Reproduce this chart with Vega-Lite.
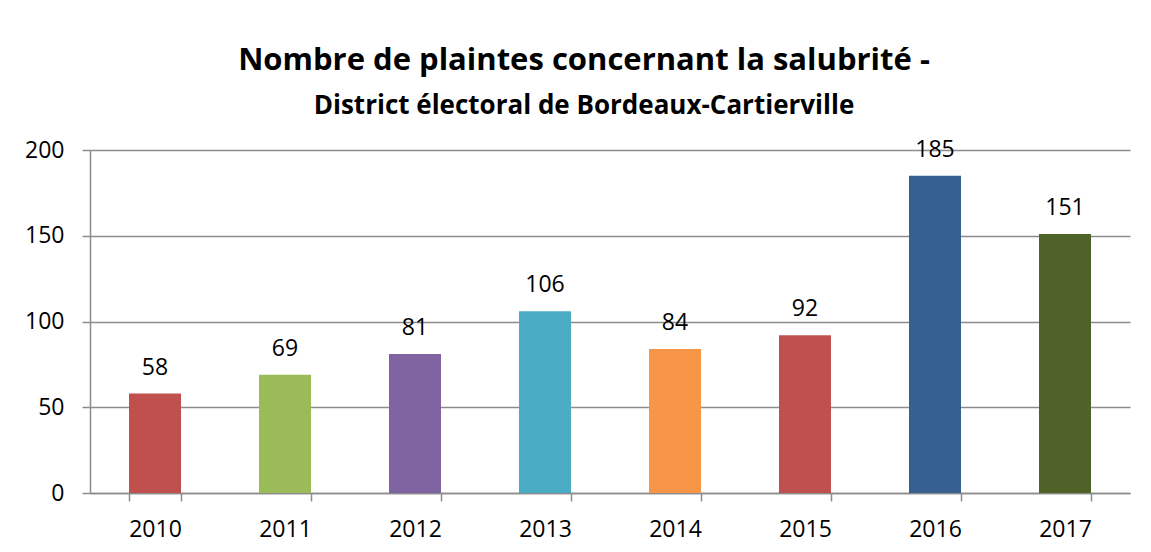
{
  "$schema": "https://vega.github.io/schema/vega-lite/v6.json",
  "width": 1040,
  "height": 343,
  "autosize": {"type": "none"},
  "padding": {"left": 90, "top": 150, "right": 21, "bottom": 59},
  "background": "white",
  "title": {
    "text": "Nombre de plaintes concernant la salubrité -",
    "subtitle": "District électoral de Bordeaux-Cartierville",
    "font": "Open Sans",
    "fontSize": 31,
    "fontWeight": "bold",
    "color": "#000000",
    "subtitleFont": "Open Sans",
    "subtitleFontSize": 26,
    "subtitleFontWeight": "bold",
    "subtitleColor": "#000000",
    "subtitlePadding": 16,
    "anchor": "middle",
    "dx": -26,
    "offset": 19
  },
  "config": {
    "view": {"stroke": null},
    "axis": {
      "labelFont": "Open Sans",
      "labelFontSize": 23,
      "labelColor": "#000000",
      "domainColor": "#8c8c8c",
      "tickColor": "#8c8c8c",
      "gridColor": "#8c8c8c",
      "domainWidth": 1.5,
      "tickWidth": 1.5,
      "gridWidth": 1.5,
      "tickSize": 8,
      "title": null
    }
  },
  "data": {
    "values": [
      {"year": "2010", "count": 58, "color": "#C0504D"},
      {"year": "2011", "count": 69, "color": "#9BBB59"},
      {"year": "2012", "count": 81, "color": "#8064A2"},
      {"year": "2013", "count": 106, "color": "#4BACC6"},
      {"year": "2014", "count": 84, "color": "#F79646"},
      {"year": "2015", "count": 92, "color": "#C0504D"},
      {"year": "2016", "count": 185, "color": "#376092"},
      {"year": "2017", "count": 151, "color": "#4F6228"}
    ]
  },
  "encoding": {
    "x": {
      "field": "year",
      "type": "nominal",
      "sort": null,
      "scale": {"paddingInner": 0.6, "paddingOuter": 0.3},
      "axis": {"labelAngle": 0, "tickBand": "extent", "labelPadding": 17, "grid": false}
    },
    "y": {
      "field": "count",
      "type": "quantitative",
      "scale": {"domain": [0, 200], "nice": false},
      "axis": {"values": [0, 50, 100, 150, 200], "grid": true, "labelPadding": 18}
    }
  },
  "layer": [
    {
      "mark": {"type": "bar"},
      "encoding": {
        "color": {"field": "color", "type": "nominal", "scale": null}
      }
    },
    {
      "mark": {"type": "text", "font": "Open Sans", "fontSize": 23, "color": "#000000", "baseline": "alphabetic", "dy": -19},
      "encoding": {
        "text": {"field": "count", "type": "quantitative"}
      }
    }
  ]
}
